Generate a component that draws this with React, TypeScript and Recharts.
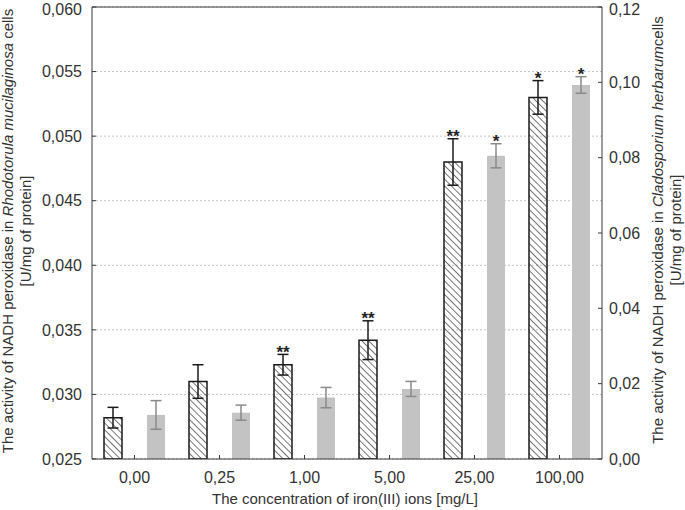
import { BarChart, Bar, XAxis, YAxis, CartesianGrid, ErrorBar, LabelList } from 'recharts';

const categories = ['0,00', '0,25', '1,00', '5,00', '25,00', '100,00'];
// Rhodotorula mucilaginosa (left axis, hatched bars)
const rhodotorula = [0.0282, 0.031, 0.0323, 0.0342, 0.048, 0.053];
const rhodotorulaErr = [0.0008, 0.0013, 0.0008, 0.0015, 0.0018, 0.0013];
const rhodotorulaSig = ['', '', '**', '**', '**', '*'];
// Cladosporium herbarum (right axis, grey bars)
const cladosporium = [0.0117, 0.0123, 0.0163, 0.0186, 0.0805, 0.0993];
const cladosporiumErr = [0.0038, 0.002, 0.0027, 0.002, 0.0032, 0.0022];
const cladosporiumSig = ['', '', '', '', '*', '*'];

const leftTicks = [0.025, 0.03, 0.035, 0.04, 0.045, 0.05, 0.055, 0.06];
const rightTicks = [0, 0.02, 0.04, 0.06, 0.08, 0.1, 0.12];

const data = categories.map((cat, i) => ({
  cat,
  rhodo: rhodotorula[i],
  rhodoErr: rhodotorulaErr[i],
  rhodoSig: rhodotorulaSig[i],
  clado: cladosporium[i],
  cladoErr: cladosporiumErr[i],
  cladoSig: cladosporiumSig[i],
}));

const FONT = '"Liberation Sans", Arial, sans-serif';
const AXIS = '#3a3a3a';
const TEXT = '#333';
const PLOT_TOP = 7;
const PLOT_BOTTOM = 459;
const PLOT_H = PLOT_BOTTOM - PLOT_TOP;

const comma = (v: number, d: number) => v.toFixed(d).replace('.', ',');

// asterisks sit just above the upper error cap
function sigLabel(errs: number[], span: number) {
  return (props: any) => {
    const { value, index } = props;
    if (!value) return null;
    const vb = props.viewBox ?? props;
    const capY = vb.y - (errs[index] * PLOT_H) / span;
    return (
      <text
        x={vb.x + vb.width / 2}
        y={capY + 3.5}
        textAnchor="middle"
        fontSize={17}
        fontWeight="bold"
        fill="#222"
        fontFamily={FONT}
      >
        {value}
      </text>
    );
  };
}

const LeftTitle = () => (
  <g fontFamily={FONT} fontSize={15} fill={TEXT}>
    <text transform="rotate(-90)" x={-231} y={13} textAnchor="middle">
      The activity of NADH peroxidase in <tspan fontStyle="italic">Rhodotorula mucilaginosa</tspan> cells
    </text>
    <text transform="rotate(-90)" x={-231} y={31} textAnchor="middle">
      [U/mg of protein]
    </text>
  </g>
);

const RightTitle = () => (
  <g fontFamily={FONT} fontSize={15} fill={TEXT}>
    <text transform="rotate(-90)" x={-230} y={663} textAnchor="middle">
      The activity of NADH peroxidase in <tspan fontStyle="italic">Cladosporium herbarum</tspan>cells
    </text>
    <text transform="rotate(-90)" x={-230} y={681} textAnchor="middle">
      [U/mg of protein]
    </text>
  </g>
);

const XTitle = () => (
  <text x={345} y={504} textAnchor="middle" fontFamily={FONT} fontSize={15} fill={TEXT}>
    The concentration of iron(III) ions [mg/L]
  </text>
);

export default function App() {
  return (
    <div style={{ position: 'absolute', left: 0, top: 0, background: '#fff' }}>
      <svg width={0} height={0} style={{ position: 'absolute' }}>
        <defs>
          <pattern id="hatch" patternUnits="userSpaceOnUse" width={4.8} height={4.8} patternTransform="rotate(-45)">
            <line x1={0} y1={0} x2={0} y2={4.8} stroke="#1a1a1a" strokeWidth={1.2} />
          </pattern>
        </defs>
      </svg>
      <BarChart
        width={685}
        height={510}
        data={data}
        margin={{ top: PLOT_TOP - 1, right: 0, bottom: 0, left: 0 }}
        barSize={18}
        barGap={25}
      >
        <CartesianGrid vertical={false} yAxisId="left" stroke="#c4c4c4" strokeDasharray="2 2" />
        <XAxis
          dataKey="cat"
          height={510 - PLOT_BOTTOM}
          stroke={AXIS}
          tickSize={-4}
          tickMargin={17}
          tick={{ fontSize: 16, fill: TEXT, fontFamily: FONT }}
          label={<XTitle />}
        />
        <XAxis xAxisId="top" dataKey="cat" orientation="top" height={1} stroke={AXIS} tickSize={-4} tick={false} />
        <YAxis
          yAxisId="left"
          width={92}
          domain={[0.025, 0.06]}
          ticks={leftTicks}
          allowDataOverflow
          stroke={AXIS}
          tickSize={-4}
          tickMargin={14}
          tickFormatter={(v: number) => comma(v, 3)}
          tick={{ fontSize: 16, fill: TEXT, fontFamily: FONT }}
          label={<LeftTitle />}
        />
        <YAxis
          yAxisId="right"
          orientation="right"
          width={83}
          domain={[0, 0.12]}
          ticks={rightTicks}
          stroke={AXIS}
          tickSize={-4}
          tickMargin={11}
          tickFormatter={(v: number) => comma(v, 2)}
          tick={{ fontSize: 16, fill: TEXT, fontFamily: FONT }}
          label={<RightTitle />}
        />
        <Bar dataKey="rhodo" yAxisId="left" fill="url(#hatch)" stroke="#1a1a1a" strokeWidth={1.5} isAnimationActive={false}>
          <ErrorBar dataKey="rhodoErr" width={5.5} stroke="#1a1a1a" strokeWidth={1.5} />
          <LabelList dataKey="rhodoSig" content={sigLabel(rhodotorulaErr, 0.035)} />
        </Bar>
        <Bar dataKey="clado" yAxisId="right" fill="#c3c3c3" isAnimationActive={false}>
          <ErrorBar dataKey="cladoErr" width={5.5} stroke="#8a8a8a" strokeWidth={1.5} />
          <LabelList dataKey="cladoSig" content={sigLabel(cladosporiumErr, 0.12)} />
        </Bar>
      </BarChart>
    </div>
  );
}
